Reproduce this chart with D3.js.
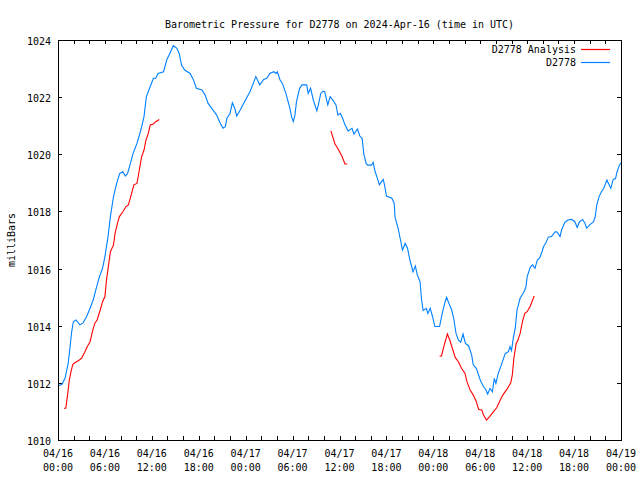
<!DOCTYPE html>
<html><head><meta charset="utf-8">
<script src="https://cdn.jsdelivr.net/npm/d3@7"></script>
<style>
html,body{margin:0;padding:0;background:#fff;}
svg text{font-family:"DejaVu Sans Mono",monospace;font-size:10px;fill:#000;}
</style></head>
<body><svg id="chart" width="640" height="480"></svg>
<script>
const titleText = "Barometric Pressure for D2778 on 2024-Apr-16 (time in UTC)";
const yLabel = "milliBars";
const startTime = "2024-04-16T00:00:00Z";
const endTime = "2024-04-19T00:00:00Z";
const yTicks = [1010, 1012, 1014, 1016, 1018, 1020, 1022, 1024];
const seriesNames = ["D2778 Analysis", "D2778"];

// hours after 2024-04-16 00:00 UTC
const stationHours = [0,0.5,0.9,1.3,1.5,1.75,1.96,2.3,2.8,3.2,3.67,4.1,4.5,4.95,5.3,5.7,6,6.4,6.7,7.1,7.5,7.9,8.3,8.6,8.9,9.2,9.6,10.1,10.6,11,11.3,11.8,12.2,12.5,12.8,13.5,13.9,14.3,14.75,15.2,15.5,15.8,16.2,16.9,17.3,17.7,18.4,18.8,19.2,19.9,20.3,20.7,21.1,21.4,21.6,22,22.3,22.6,22.85,23.3,23.7,24.1,24.55,24.9,25.3,25.8,26.3,26.7,27.1,27.6,27.9,28.05,28.4,28.7,29.2,29.6,29.9,30.1,30.3,30.5,30.9,31.2,31.8,32,32.3,32.65,33.1,33.3,33.6,33.9,34.1,34.4,34.5,34.8,35.2,35.55,35.8,36.1,36.4,36.7,37.1,37.6,37.85,38.3,38.6,38.9,39.1,39.4,39.6,40.1,40.3,40.5,40.8,41.1,41.4,41.6,41.8,42,42.7,43,43.1,43.5,43.8,44.05,44.4,44.7,45,45.4,45.7,45.95,46.3,46.5,46.7,47.1,47.3,47.6,47.9,48.2,48.8,49.1,49.5,49.7,50,50.35,50.6,50.9,51.2,51.5,51.8,52.1,52.5,52.9,53.1,53.5,54,54.4,54.7,54.95,55.25,55.55,55.8,56,56.3,56.7,57.2,57.6,57.8,58,58.2,58.5,58.7,59.1,59.6,59.85,60,60.4,60.7,61,61.3,61.6,61.9,62.1,62.4,62.7,63.1,63.6,63.85,64.2,64.4,64.8,65.2,65.7,66.1,66.4,66.7,67.1,67.4,67.6,68,68.5,68.7,68.9,69.2,69.5,69.8,70.2,70.4,70.7,71,71.3,71.5,71.8,72];
const stationValues = [1011.89,1011.95,1012.16,1012.68,1013.15,1013.79,1014.14,1014.2,1014.03,1014.1,1014.32,1014.61,1014.9,1015.37,1015.72,1016.01,1016.42,1017.12,1017.82,1018.52,1018.98,1019.33,1019.39,1019.24,1019.33,1019.62,1020.03,1020.38,1020.85,1021.32,1022.02,1022.37,1022.66,1022.66,1022.83,1022.89,1023.3,1023.53,1023.8,1023.71,1023.53,1023.12,1022.95,1022.83,1022.62,1022.31,1022.25,1022.08,1021.78,1021.52,1021.37,1021.11,1020.91,1020.97,1021.26,1021.43,1021.8,1021.61,1021.34,1021.55,1021.76,1021.96,1022.19,1022.43,1022.72,1022.43,1022.62,1022.66,1022.83,1022.89,1022.83,1022.89,1022.6,1022.48,1022.08,1021.67,1021.29,1021.14,1021.37,1021.84,1022.31,1022.43,1022.43,1022.13,1022.31,1021.9,1021.52,1021.73,1022.13,1022.21,1022.19,1021.84,1021.73,1022.02,1021.88,1021.73,1021.37,1021.43,1021.26,1021.03,1020.82,1020.91,1020.71,1020.89,1020.64,1020.55,1020.03,1019.68,1019.62,1019.62,1019.72,1019.45,1019.19,1018.93,1019.05,1019.12,1018.87,1018.54,1018.46,1018.28,1017.8,1017.41,1017.0,1016.65,1016.88,1016.71,1016.3,1015.89,1016.09,1015.78,1015.54,1014.9,1014.53,1014.61,1014.43,1014.61,1014.32,1013.97,1013.97,1014.38,1014.84,1014.99,1014.78,1014.55,1014.26,1013.73,1013.5,1013.42,1013.71,1013.38,1013.3,1012.98,1012.63,1012.51,1012.1,1011.87,1011.77,1011.61,1011.81,1011.69,1012.16,1011.98,1012.33,1012.63,1013.03,1013.09,1013.27,1013.13,1013.52,1013.97,1014.55,1014.96,1015.19,1015.37,1015.72,1016.05,1016.13,1016.01,1016.3,1016.37,1016.59,1016.77,1016.9,1017.1,1017.12,1017.29,1017.27,1017.12,1017.35,1017.61,1017.7,1017.72,1017.64,1017.44,1017.64,1017.72,1017.58,1017.41,1017.53,1017.64,1017.82,1018.23,1018.52,1018.69,1018.81,1019.1,1018.98,1018.81,1019.12,1019.15,1019.39,1019.62,1019.7];

// analysis series; null marks a gap between runs
const analysisHours = [0.77,1,1.2,1.45,1.66,1.9,2.2,2.6,3,3.4,3.75,4.1,4.4,4.7,5,5.4,5.7,6,6.2,6.5,6.7,7.1,7.3,7.6,7.85,8.3,8.7,9,9.3,9.7,10.1,10.4,10.7,11,11.25,11.55,11.8,12.2,12.5,12.95,
  20,
  34.9,35.4,35.85,36.3,36.7,37,
  42,
  48.8,49.05,49.4,49.8,50.1,50.5,50.8,51.2,51.6,52.05,52.3,52.7,53.1,53.5,53.8,54.2,54.4,54.8,55.2,55.7,56.1,56.45,56.9,57.4,57.9,58.1,58.3,58.6,58.8,59.1,59.4,59.7,60,60.4,60.7,60.9];
const analysisValues = [1011.11,1011.11,1011.52,1012.1,1012.39,1012.65,1012.71,1012.77,1012.86,1013.06,1013.27,1013.44,1013.79,1014.08,1014.2,1014.55,1014.84,1015.02,1015.6,1016.18,1016.59,1016.83,1017.23,1017.58,1017.82,1017.99,1018.17,1018.23,1018.52,1018.93,1018.98,1019.45,1019.92,1020.15,1020.5,1020.73,1021.03,1021.06,1021.14,1021.22,
  null,
  1020.82,1020.38,1020.17,1019.94,1019.66,1019.66,
  null,
  1012.94,1012.94,1013.33,1013.71,1013.5,1013.15,1012.89,1012.74,1012.51,1012.33,1012.04,1011.75,1011.58,1011.34,1011.07,1011.05,1010.88,1010.7,1010.82,1010.99,1011.13,1011.34,1011.58,1011.77,1012.0,1012.28,1012.86,1013.38,1013.48,1013.73,1014.14,1014.43,1014.49,1014.69,1014.9,1015.04];

const colors = ["#ff0000", "#0080ff"];

const W = 640, H = 480;
const m = {left: 58, right: 19, top: 40, bottom: 40};
const svg = d3.select("#chart");
const t0 = new Date(startTime), t1 = new Date(endTime);
const hr = h => new Date(t0.getTime() + h * 3600000);

const x = d3.scaleUtc().domain([t0, t1]).range([m.left, W - m.right]);
const y = d3.scaleLinear().domain([1010, 1024]).range([H - m.bottom, m.top]);

const g = svg.append("g");
const x0 = m.left, x1 = W - m.right, y0 = m.top, y1 = H - m.bottom;
const tl = 4;
const xt = d3.utcHour.every(2).range(t0, new Date(t1.getTime() + 1));

// ticks
xt.forEach(d => {
  const px = Math.round(x(d)) + 0.5;
  g.append("line").attr("x1", px).attr("x2", px).attr("y1", y1).attr("y2", y1 - tl).attr("stroke", "#000");
  g.append("line").attr("x1", px).attr("x2", px).attr("y1", y0).attr("y2", y0 + tl).attr("stroke", "#000");
  if (d.getUTCHours() % 6 === 0) {
    const t = g.append("text").attr("text-anchor", "middle").attr("x", x(d));
    t.append("tspan").attr("x", x(d)).attr("y", y1 + 17).text(d3.utcFormat("%m/%d")(d));
    t.append("tspan").attr("x", x(d)).attr("y", y1 + 31).text(d3.utcFormat("%H:%M")(d));
  }
});
yTicks.forEach(v => {
  const py = Math.round(y(v)) + 0.5;
  g.append("line").attr("x1", x0).attr("x2", x0 + tl).attr("y1", py).attr("y2", py).attr("stroke", "#000");
  g.append("line").attr("x1", x1).attr("x2", x1 - tl).attr("y1", py).attr("y2", py).attr("stroke", "#000");
  g.append("text").attr("x", 51).attr("y", y(v) + 5).attr("text-anchor", "end").text(v);
});

// series
const line = d3.line()
  .defined(d => d[1] !== null)
  .x(d => x(hr(d[0])))
  .y(d => y(d[1]));
const analysisData = analysisHours.map((h, i) => [h, analysisValues[i]]);
const stationData = stationHours.map((h, i) => [h, stationValues[i]]);

g.append("path").datum(analysisData).attr("d", line).attr("fill", "none")
  .attr("stroke", colors[0]).attr("stroke-width", 1.1);
g.append("path").datum(stationData).attr("d", line).attr("fill", "none")
  .attr("stroke", colors[1]).attr("stroke-width", 1.1);

// frame
g.append("rect").attr("x", x0 + 0.5).attr("y", y0 + 0.5).attr("width", x1 - x0).attr("height", y1 - y0)
  .attr("fill", "none").attr("stroke", "#000");

// title and axis label
svg.append("text").attr("x", (x0 + x1) / 2).attr("y", 28).attr("text-anchor", "middle").text(titleText);
svg.append("text").attr("transform", "translate(15,240) rotate(-90)").attr("text-anchor", "middle").text(yLabel);

// legend
seriesNames.forEach((n, i) => {
  const ly = 49 + i * 13;
  svg.append("text").attr("x", 576).attr("y", ly + 4).attr("text-anchor", "end").text(n);
  svg.append("line").attr("x1", 581).attr("x2", 610).attr("y1", ly + 0.5).attr("y2", ly + 0.5)
    .attr("stroke", colors[i]).attr("stroke-width", 1.2);
});
</script></body></html>
